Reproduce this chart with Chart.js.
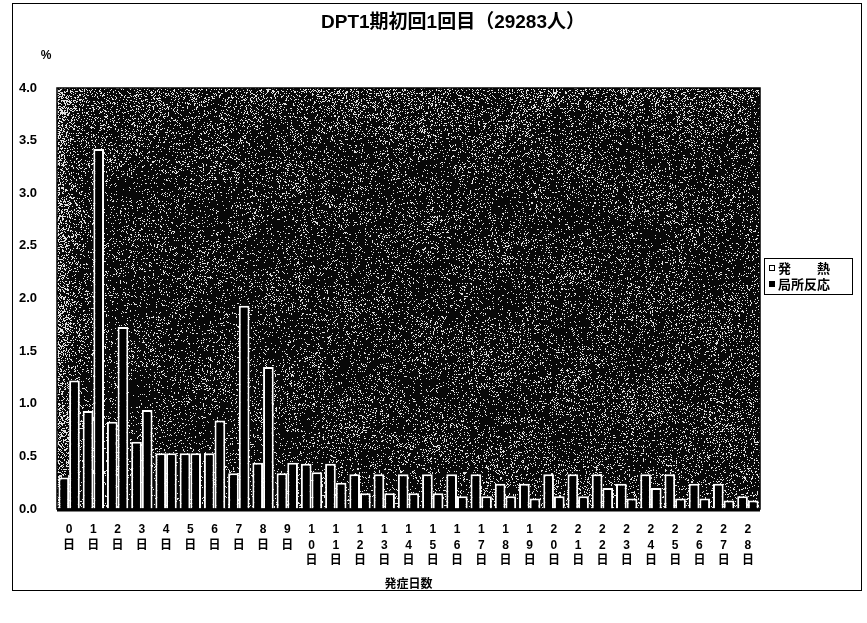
<!DOCTYPE html>
<html lang="ja">
<head>
<meta charset="utf-8">
<title>DPT1期初回1回目</title>
<script src="https://cdn.jsdelivr.net/npm/chart.js@4.4.1/dist/chart.umd.min.js"></script>
<style>
  html, body { margin: 0; padding: 0; background: #fff; }
  #frame {
    position: absolute;
    left: 12px;
    top: 3px;
    width: 848px;
    height: 586px;
    border: 1px solid #000;
  }
  canvas { display: block; }
</style>
</head>
<body>
<div id="frame"><canvas id="onsetChart" width="848" height="586"></canvas></div>
<script>
// days after vaccination (発症日数)
const dayLabels = [
  "0日", "1日", "2日", "3日", "4日", "5日", "6日", "7日", "8日", "9日",
  "10日", "11日", "12日", "13日", "14日", "15日", "16日", "17日", "18日", "19日",
  "20日", "21日", "22日", "23日", "24日", "25日", "26日", "27日", "28日"
];

// % of 29283 vaccinees
const fever = [
  0.30, 0.93, 0.83, 0.64, 0.53, 0.53, 0.53, 0.34, 0.44, 0.34,
  0.43, 0.43, 0.33, 0.33, 0.33, 0.33, 0.33, 0.33, 0.24, 0.24,
  0.33, 0.33, 0.33, 0.24, 0.33, 0.33, 0.24, 0.24, 0.12
];
const localReaction = [
  1.22, 3.42, 1.73, 0.94, 0.53, 0.53, 0.84, 1.93, 1.35, 0.44,
  0.35, 0.25, 0.15, 0.15, 0.15, 0.15, 0.12, 0.12, 0.12, 0.10,
  0.12, 0.12, 0.20, 0.10, 0.20, 0.10, 0.10, 0.08, 0.08
];

const seriesNames = ["発　　熱", "局所反応"];
const yTicks = [0, 0.5, 1.0, 1.5, 2.0, 2.5, 3.0, 3.5, 4.0];

const FONT = '"Liberation Sans", "Noto Sans CJK JP", sans-serif';

// grainy dark fill behind the bars, denser along the left and top edges
const speckle = {
  id: "speckle",
  beforeDatasetsDraw(chart) {
    const a = chart.chartArea;
    const x0 = Math.round(a.left), y0 = Math.round(a.top);
    const w = Math.round(a.right) - x0, h = Math.round(a.bottom) - y0;
    const img = chart.ctx.createImageData(w, h);
    for (let y = 0; y < h; y++) {
      for (let x = 0; x < w; x++) {
        let n = Math.sin(x * 12.9898 + y * 78.233) * 43758.5453;
        n -= Math.floor(n);
        const blot = 0.5 + 0.5 * Math.sin(x / 23 + 1.3) * Math.sin(y / 17 + x / 41);
        const d = (0.06 + 0.08 * blot) + 0.35 * Math.exp(-x / 12)
          + 0.14 * Math.exp(-y / 35) + 0.06 * (x / w) * (y / h);
        const v = n < d ? 225 : 8;
        const i = (y * w + x) * 4;
        img.data[i] = img.data[i + 1] = img.data[i + 2] = v;
        img.data[i + 3] = 255;
      }
    }
    chart.ctx.putImageData(img, x0, y0);
  },
  afterDatasetsDraw(chart) {
    const { ctx, chartArea: a } = chart;
    ctx.save();
    ctx.strokeStyle = "#000";
    ctx.lineWidth = 1.5;
    ctx.strokeRect(a.left, a.top, a.right - a.left, a.bottom - a.top);
    ctx.lineWidth = 3;
    ctx.beginPath();
    ctx.moveTo(a.left, a.bottom + 1);
    ctx.lineTo(a.right, a.bottom + 1);
    ctx.stroke();
    ctx.restore();
  }
};

// title, unit, x title and the boxed legend
const decorations = {
  id: "decorations",
  afterDraw(chart) {
    const { ctx, chartArea: a } = chart;
    ctx.save();
    ctx.fillStyle = "#000";
    ctx.textBaseline = "middle";

    ctx.font = "bold 19px " + FONT;
    ctx.textAlign = "center";
    ctx.fillText("DPT1期初回1回目（29283人）", 440, 19);

    ctx.font = "bold 12px " + FONT;
    ctx.fillText("%", 33, 52);
    ctx.fillText("発症日数", (a.left + a.right) / 2, a.bottom + 76);

    // legend box
    const bx = 751, by = 254, bw = 88, bh = 36;
    ctx.lineWidth = 1;
    ctx.strokeStyle = "#000";
    ctx.strokeRect(bx + 0.5, by + 0.5, bw, bh);
    ctx.font = "bold 13px " + FONT;
    ctx.textAlign = "left";
    chart.data.datasets.forEach((ds, i) => {
      const cy = by + 10 + i * 16;
      ctx.fillStyle = i === 0 ? "#fff" : "#000";
      ctx.fillRect(bx + 5, cy - 3, 6, 6);
      ctx.strokeRect(bx + 5.5, cy - 2.5, 5, 5);
      ctx.fillStyle = "#000";
      ctx.fillText(ds.label, bx + 14, cy + 1);
    });
    ctx.restore();
  }
};

new Chart(document.getElementById("onsetChart"), {
  type: "bar",
  data: {
    labels: dayLabels,
    datasets: [
      {
        label: seriesNames[0],
        data: fever,
        backgroundColor: "#000",
        borderColor: "#fff",
        borderWidth: 2
      },
      {
        label: seriesNames[1],
        data: localReaction,
        backgroundColor: "#000",
        borderColor: "#fff",
        borderWidth: 2
      }
    ]
  },
  options: {
    responsive: false,
    animation: false,
    layout: { padding: { top: 84, right: 101, left: 0, bottom: 0 } },
    datasets: {
      bar: { barPercentage: 1.0, categoryPercentage: 0.88 }
    },
    plugins: {
      legend: { display: false },
      tooltip: { enabled: false }
    },
    scales: {
      x: {
        grid: { display: false },
        border: { display: false },
        afterFit(scale) { scale.height = 81; },
        ticks: {
          autoSkip: false,
          maxRotation: 0,
          padding: 5,
          color: "#000",
          font: { family: FONT, size: 12, weight: "bold", lineHeight: 1.3 },
          // stack the characters vertically: "12日" -> 1 / 2 / 日
          callback(value) { return Array.from(dayLabels[value]); }
        }
      },
      y: {
        min: 0,
        max: 4,
        grid: { display: false },
        border: { display: false },
        afterFit(scale) { scale.width = 44; },
        afterBuildTicks(scale) { scale.ticks = yTicks.map(v => ({ value: v })); },
        ticks: {
          padding: 12,
          color: "#000",
          font: { family: FONT, size: 13, weight: "bold" },
          callback(value) { return value.toFixed(1); }
        }
      }
    }
  },
  plugins: [speckle, decorations]
});
</script>
</body>
</html>
